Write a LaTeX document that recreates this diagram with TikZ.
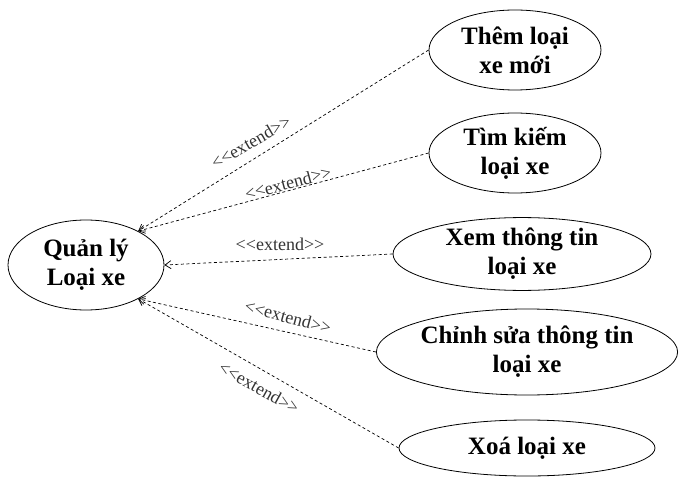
\documentclass[tikz,border=0pt]{standalone}
\usepackage{fontspec}
\setmainfont{Liberation Serif}
\usetikzlibrary{shapes.geometric,arrows.meta}
\newcommand{\extendtxt}{\textless{}\textless{}extend\textgreater{}\textgreater{}}
\tikzset{
  usecase/.style={draw, ellipse, line width=0.8pt, inner sep=0pt, align=center,
    font=\fontsize{25}{29}\selectfont\bfseries},
  extlbl/.style={text=black!80, inner sep=0pt, font=\fontsize{18}{18}\selectfont},
  extarrow/.style={-{Straight Barb[length=6pt,width=8pt]}, line width=0.7pt,
    dash pattern=on 3pt off 2.5pt}
}
\begin{document}
\begin{tikzpicture}[x=1pt, y=-1pt]
  \useasboundingbox (0,0) rectangle (682,489);
  % main use case
  \node[usecase, minimum width=156pt, minimum height=90pt] (qly) at (86,265) {Quản lý\\Loại xe};
  % extending use cases
  \node[usecase, minimum width=172pt, minimum height=80pt] (them) at (515,50) {Thêm loại\\xe mới};
  \node[usecase, minimum width=172pt, minimum height=80pt] (tim) at (515,153) {Tìm kiếm\\loại xe};
  \node[usecase, minimum width=258pt, minimum height=66pt] (xem) at (522,254) {Xem thông tin\\loại xe};
  \node[usecase, minimum width=284pt, minimum height=86pt] (sua) at (527,352) {Chỉnh sửa thông tin\\loại xe};
  \node[usecase, minimum width=256pt, minimum height=56pt] (xoa) at (527,448) {Xoá loại xe};
  % extend relations
  \draw[extarrow] (them.west) -- (qly.33);
  \draw[extarrow] (tim.west) -- (qly.33);
  \draw[extarrow] (xem.west) -- (qly.east);
  \draw[extarrow] (sua.west) -- (qly.-33);
  \draw[extarrow] (xoa.west) -- (qly.-33);
  \node[extlbl, rotate=30] (e1) at (251,142) {\extendtxt};
  \node[extlbl, rotate=15] (e2) at (288,183) {\extendtxt};
  \node[extlbl] (e3) at (280,244) {\extendtxt};
  \node[extlbl, rotate=-15] (e4) at (288,317) {\extendtxt};
  \node[extlbl, rotate=-29] (e5) at (259,388) {\extendtxt};
\end{tikzpicture}
\end{document}
